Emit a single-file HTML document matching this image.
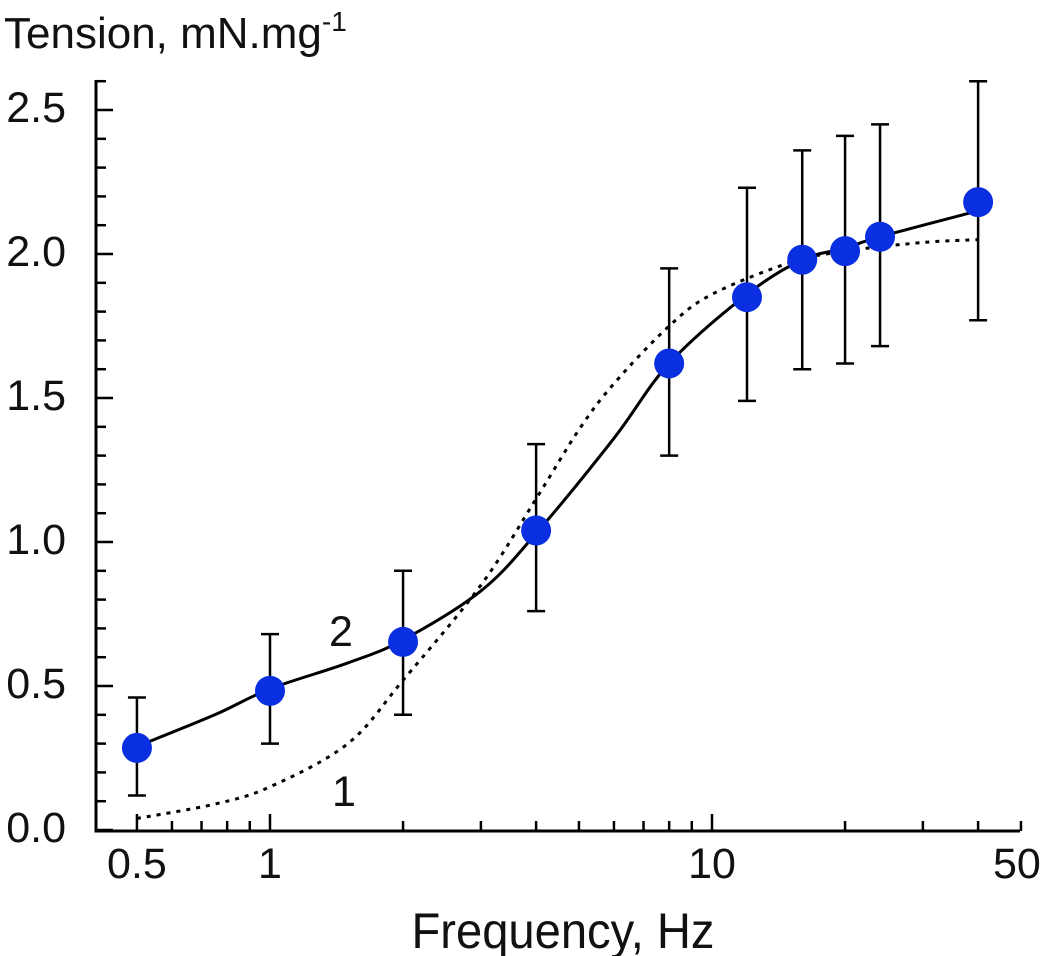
<!DOCTYPE html>
<html><head><meta charset="utf-8"><style>
body{margin:0;background:#fff;}
svg{display:block;font-family:"Liberation Sans",Arial,sans-serif;}
</style></head><body>
<svg id="chart" width="1050" height="956" viewBox="0 0 1050 956" xmlns="http://www.w3.org/2000/svg"></svg>
<script>
const freqs=[0.5,1,2,4,8,12,16,20,24,40];
const tension=[0.285,0.483,0.653,1.04,1.62,1.85,1.98,2.01,2.06,2.18];
const errUpper=[0.46,0.68,0.90,1.34,1.95,2.23,2.36,2.41,2.45,2.60];
const errLower=[0.12,0.30,0.40,0.76,1.30,1.49,1.60,1.62,1.68,1.77];
const fit2X=[0.5,0.75,1,1.5,2,3,4,6,8,12,16,20,24,40];
const fit2Y=[0.29,0.40,0.49,0.58,0.66,0.83,1.03,1.36,1.62,1.86,1.98,2.02,2.06,2.15];
const fit1X=[0.5,0.75,1,1.5,2,3,4,5,6,8,10,15,20,30,40];
const fit1Y=[0.04,0.09,0.15,0.30,0.52,0.85,1.15,1.39,1.55,1.75,1.86,1.97,2.01,2.04,2.05];
const yTicks=[0,0.5,1,1.5,2,2.5];
const yTickLabels=["0.0","0.5","1.0","1.5","2.0","2.5"];
const xTicks=[0.5,1,10,50];
const xTickLabels=["0.5","1","10","50"];

const NS="http://www.w3.org/2000/svg";
const svg=document.getElementById('chart');
const X0=96,Y0=831,XR=1020,YT=80;
function xs(v){return 270+Math.log10(v)*442;}
function ys(v){return 830-v*288;}
function el(tag,attrs,parent){const e=document.createElementNS(NS,tag);for(const k in attrs)e.setAttribute(k,attrs[k]);(parent||svg).appendChild(e);return e;}

let a=el('path',{d:`M${X0},${YT} V${Y0} H${XR}`,fill:'none',stroke:'#000','stroke-width':3});


for(let i=0;i<=26;i++){const v=i/10;const y=ys(v);const major=i%5===0;
 const t=el('line',{x1:X0,x2:X0+(major?17:10),y1:y,y2:y,stroke:'#000','stroke-width':2.5});
 
 }
yTicks.forEach((v,i)=>{const t=el('text',{x:66,y:ys(v)+12,'font-size':43,'text-anchor':'end',fill:'#111'});t.textContent=yTickLabels[i];
 
 });
const minors=[0.6,0.7,0.8,0.9,2,3,4,5,6,7,8,9,20,30,40,50];
minors.forEach(v=>{const x=xs(v);const t=el('line',{x1:x,x2:x,y1:Y0,y2:Y0-10,stroke:'#000','stroke-width':2.5});
 
 });
[0.5,1,10].forEach(v=>{const x=xs(v);const t=el('line',{x1:x,x2:x,y1:Y0,y2:Y0-17,stroke:'#000','stroke-width':2.5});
 
 });
xTicks.forEach((v,i)=>{const t=el('text',{x:xs(v)+(v===50?-4:0),y:878,'font-size':43,'text-anchor':'middle',fill:'#111'});t.textContent=xTickLabels[i];
 
 });
let tt=el('text',{x:4,y:48,'font-size':44,fill:'#111'});tt.innerHTML='Tension, mN.mg<tspan dy="-17" font-size="28">-1</tspan>';


let xt=el('text',{x:563,y:948,'font-size':50,'text-anchor':'middle',fill:'#111',textLength:303,lengthAdjust:'spacingAndGlyphs'});xt.textContent='Frequency, Hz';



function smooth(xa,ya){const p=xa.map((v,i)=>[xs(v),ys(ya[i])]);let d=`M${p[0][0]},${p[0][1]}`;
 for(let i=0;i<p.length-1;i++){const p0=p[Math.max(0,i-1)],p1=p[i],p2=p[i+1],p3=p[Math.min(p.length-1,i+2)];
  const c1=[p1[0]+(p2[0]-p0[0])/6,p1[1]+(p2[1]-p0[1])/6],c2=[p2[0]-(p3[0]-p1[0])/6,p2[1]-(p3[1]-p1[1])/6];
  d+=` C${c1[0]},${c1[1]} ${c2[0]},${c2[1]} ${p2[0]},${p2[1]}`;}return d;}
let c1=el('path',{d:smooth(fit1X,fit1Y),fill:'none',stroke:'#000','stroke-width':3,'stroke-dasharray':'4 6'});


let c2=el('path',{d:smooth(fit2X,fit2Y),fill:'none',stroke:'#000','stroke-width':3});


let l1=el('text',{x:332,y:806,'font-size':43,fill:'#111'});l1.textContent='1';


let l2=el('text',{x:329,y:646,'font-size':43,fill:'#111'});l2.textContent='2';



freqs.forEach((f,i)=>{const x=xs(f);const yu=ys(errUpper[i]),yl=ys(errLower[i]);
 const e=el('path',{d:`M${x},${yu} V${yl} M${x-9},${yu} H${x+9} M${x-9},${yl} H${x+9}`,stroke:'#000','stroke-width':2.5,fill:'none'});
 
 
 const c=el('circle',{cx:x,cy:ys(tension[i]),r:15,fill:'#0a2fe0'});
 
 });
</script>
</body></html>
